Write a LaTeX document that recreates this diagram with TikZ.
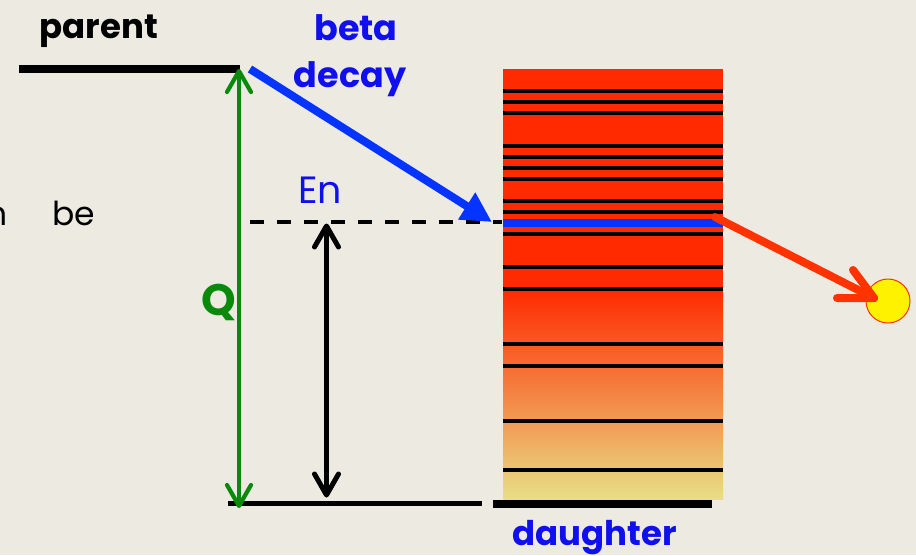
\documentclass[tikz,border=0pt]{standalone}
\usepackage{fontspec}
\setmainfont{Poppins}
\usetikzlibrary{arrows.meta}
\definecolor{bg}{HTML}{EDEAE1}
\definecolor{txtblue}{HTML}{1010EE}
\definecolor{arrblue}{HTML}{0533FF}
\definecolor{qgreen}{HTML}{0A8A0A}
\definecolor{boxred}{HTML}{FF2A00}
\definecolor{boxyellow}{HTML}{E9DE86}
\definecolor{arrred}{HTML}{FF3300}
\tikzset{
  lbl/.style={inner sep=0pt},
  level/.style={line width=3.2pt, black},
  chevron/.style={line cap=round, line join=round},
}
\begin{document}
\begin{tikzpicture}[x=1pt,y=-1pt]
\fill[bg] (0,0) rectangle (916,555);
\useasboundingbox (0,0) rectangle (916,555);
% level box
\fill[boxred] (503,69) rectangle (723,290);
\shade[top color=boxred, bottom color=boxyellow] (503,289.5) rectangle (723,499);
\foreach \yy in {91,102,113,146,157,168,179,201,212,234,267,289,344,366,421,470}
  \draw[level] (503,\yy) -- (723,\yy);
\coordinate (bl) at (503,223);
\coordinate (br) at (723,223);
\draw[arrblue, line width=8pt] (bl) -- (br);
% levels
\coordinate (p1) at (19,69);
\coordinate (p2) at (240,69);
\draw[line width=7.5pt] (p1) -- (p2);
\coordinate (g1) at (228,503);
\coordinate (g2) at (482,503);
\draw[line width=5pt] (g1) -- (g2);
\coordinate (d1) at (493,503.5);
\coordinate (d2) at (712,503.5);
\draw[line width=8pt] (d1) -- (d2);
\coordinate (e1) at (250,222);
\coordinate (e2) at (502,222);
\draw[line width=3.2pt, dash pattern=on 14pt off 13pt] (e1) -- (e2);
% Q arrow
\coordinate (qt) at (239,71);
\coordinate (qb) at (239,506);
\draw[qgreen, line width=4.2pt] (qt) -- (qb);
\draw[qgreen, line width=4.2pt, chevron] (qt) ++(-12,21) -- (qt) -- ++(12,21);
\draw[qgreen, line width=4.2pt, chevron] (qb) ++(-12,-21) -- (qb) -- ++(12,-21);
% En arrow
\coordinate (nt) at (326.5,226);
\coordinate (nb) at (326.5,495);
\draw[black, line width=5pt] (nt) -- (nb);
\draw[black, line width=5pt, chevron] (nt) ++(-12,21) -- (nt) -- ++(12,21);
\draw[black, line width=5pt, chevron] (nb) ++(-12,-21) -- (nb) -- ++(12,-21);
% beta arrow
\coordinate (bs) at (250,69);
\coordinate (be2) at (492,222);
\draw[arrblue, line width=8pt, -{Triangle[length=30pt,width=30pt]}] (bs) -- (be2);
% neutron
\node[circle, fill=yellow, draw=arrred, line width=1pt, minimum size=44pt, inner sep=0pt] (ball) at (888,301) {};
\coordinate (rs) at (715,217);
\coordinate (rt) at (874,298);
\draw[arrred, line width=8pt, line cap=round] (rs) -- (rt);
\draw[arrred, line width=8pt, chevron] (853,270) -- (rt) -- (837,298);
% labels
\node[lbl, font=\bfseries\fontsize{34}{36}\selectfont, anchor=base] (parent) at (99,38) {parent};
\node[lbl, txtblue, font=\bfseries\fontsize{35}{37}\selectfont, anchor=base] (beta) at (356,40) {beta};
\node[lbl, txtblue, font=\bfseries\fontsize{35}{37}\selectfont, anchor=base] (decay) at (350,87) {decay};
\node[lbl, txtblue, font=\fontsize{38}{40}\selectfont, anchor=base] (en) at (320,203) {En};
\node[lbl, qgreen, font=\bfseries\fontsize{44}{46}\selectfont] (q) at (219,302) {Q};
\node[lbl, txtblue, font=\bfseries\fontsize{34}{36}\selectfont, anchor=base] (daughter) at (595,545) {daughter};
\node[lbl, font=\fontsize{33}{35}\selectfont, anchor=base east] (ntxt) at (8,225) {n};
\node[lbl, font=\fontsize{33}{35}\selectfont, anchor=base west] (betxt) at (52,225) {be};
\end{tikzpicture}
\end{document}
